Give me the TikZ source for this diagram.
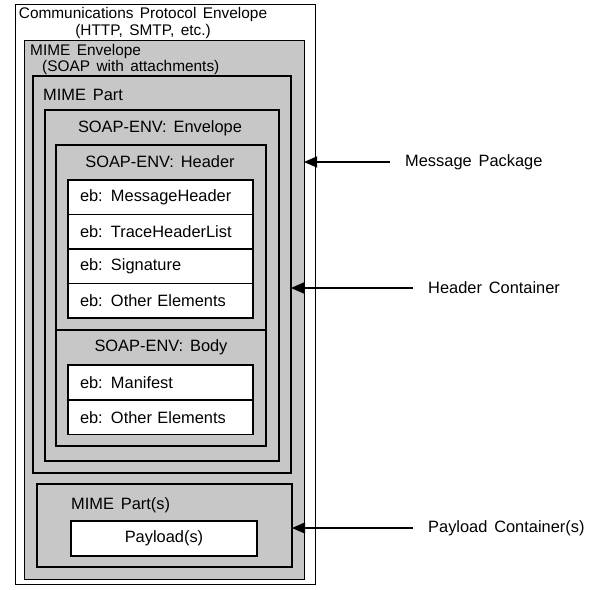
\documentclass[tikz,border=0pt]{standalone}
\usepackage{fontspec}
\setmainfont{Liberation Sans}[WordSpace=1.5]
\usetikzlibrary{arrows.meta}

\begin{document}
\begin{tikzpicture}[x=1pt,y=-1pt,
  every node/.style={font=\fontsize{16.4pt}{17pt}\selectfont},
  smallcap/.style={font=\fontsize{15.4pt}{17pt}\selectfont},
  frame/.style={draw, rectangle, anchor=north west, inner sep=0pt, outer sep=0pt},
  plainbox/.style={frame, line width=0.9pt, fill=white},
  shadebox/.style={frame, line width=0.9pt, fill=black!22},
  heavybox/.style={frame, line width=2pt, fill=black!22},
  row/.style={frame, line width=1.3pt, fill=white, minimum height=34.5,
              text width=161, inner xsep=12pt, align=left},
  caption/.style={inner sep=0pt},
  sidelabel/.style={anchor=west, inner xsep=15pt, inner ysep=0pt},
  pointer/.style={line width=1.2pt, -{Triangle[length=13pt,width=11pt]}}]

\useasboundingbox (0,0) rectangle (591,589);

% nested containers, outermost first
\node[plainbox, minimum width=300, minimum height=580] (comm) at (15,4) {};
\node[shadebox, minimum width=280, minimum height=539] (env) at (24,40) {};
\node[heavybox, minimum width=258, minimum height=397] (mpart) at (33,76) {};
\node[heavybox, minimum width=234, minimum height=351] (soap) at (45,110) {};
\node[heavybox, minimum width=210, minimum height=185] (hdr) at (56,145) {};
\node[heavybox, minimum width=210, minimum height=116] (body) at (56,330) {};

% header entries
\node[row] (r1) at (68,180)   {eb: MessageHeader};
\node[row] (r2) at (68,214.5) {eb: TraceHeaderList};
\node[row] (r3) at (68,249)   {eb: Signature};
\node[row] (r4) at (68,283.5) {eb: Other Elements};

% body entries
\node[row] (b1) at (68,365) {eb: Manifest};
\node[row] (b2) at (68,400) {eb: Other Elements};

% payload part
\node[heavybox, minimum width=255, minimum height=83] (parts) at (37,484) {};
\node[frame, line width=1.5pt, fill=white, minimum width=186, minimum height=35] (pay) at (71,521) {Payload(s)};

% container captions
\node[caption, smallcap, align=center] (tcomm) at (143,23.5) {Communications Protocol Envelope\\(HTTP, SMTP, etc.)};
\node[caption, smallcap, anchor=west] (tenv1) at (30,52) {MIME Envelope};
\node[caption, smallcap, anchor=west] (tenv2) at (42,68) {(SOAP with attachments)};
\node[caption, anchor=west] (tmp) at (43,95) {MIME Part};
\node[caption] (tsoap) at (160,128) {SOAP-ENV: Envelope};
\node[caption] (thdr) at (160,162) {SOAP-ENV: Header};
\node[caption] (tbody) at (161,347) {SOAP-ENV: Body};
\node[caption, anchor=west] (tparts) at (71,505) {MIME Part(s)};

% side labels and pointers
\node[sidelabel] (lmp) at (390,162) {Message Package};
\node[sidelabel] (lhc) at (413,288) {Header Container};
\node[sidelabel] (lpc) at (413,528) {Payload Container(s)};

\draw[pointer] (lmp.west) -- (lmp.west -| env.east);
\draw[pointer] (lhc.west) -- (lhc.west -| mpart.east);
\draw[pointer] (lpc.west) -- (lpc.west -| parts.east);

\end{tikzpicture}
\end{document}
